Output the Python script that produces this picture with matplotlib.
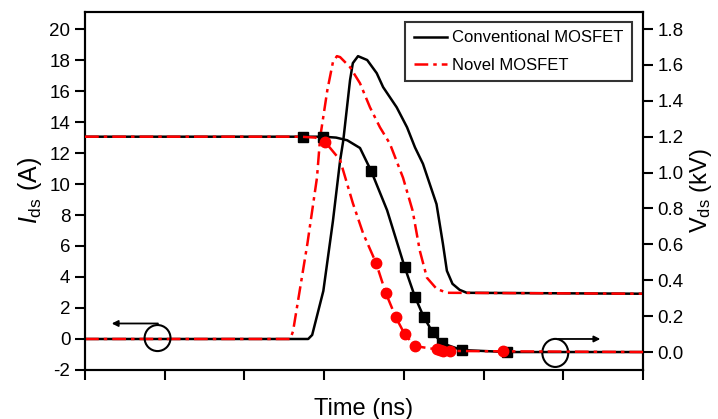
import numpy as np
import matplotlib
matplotlib.use("Agg")
import matplotlib.pyplot as plt
from matplotlib.patches import Ellipse

plt.rcParams['font.family'] = ['Liberation Sans', 'DejaVu Sans']
plt.rcParams['mathtext.fontset'] = 'custom'
plt.rcParams['mathtext.rm'] = 'Liberation Sans'
plt.rcParams['mathtext.it'] = 'Liberation Sans:italic'
plt.rcParams['axes.unicode_minus'] = False

# Ids (A), left axis
t_ids_conv = [0, 2.80, 2.85, 2.99, 3.11, 3.20, 3.24, 3.325, 3.36, 3.425, 3.54, 3.66, 3.74,
              3.91, 4.04, 4.14, 4.24, 4.325, 4.41, 4.49, 4.54, 4.61, 4.70, 4.79, 7.0]
ids_conv = [0, 0, 0.26, 3.1, 7.6, 11.5, 12.8, 16.7, 17.8, 18.25, 18.0, 17.15, 16.25,
            14.95, 13.66, 12.36, 11.3, 10.0, 8.7, 6.15, 4.4, 3.56, 3.17, 2.98, 2.92]

t_ids_novel = [0, 2.575, 2.61, 2.79, 2.91, 2.95, 3.04, 3.11, 3.16, 3.20, 3.325, 3.45, 3.575,
               3.70, 3.825, 3.99, 4.11, 4.20, 4.29, 4.41, 4.54, 7.0]
ids_novel = [0, 0, 0.5, 6.15, 10.4, 13.0, 16.05, 17.86, 18.25, 18.19, 17.54, 16.5, 14.95,
             13.66, 12.6, 10.4, 8.28, 5.7, 3.95, 3.24, 2.98, 2.92]

# Vds (kV), right axis
t_vds_conv = [0, 2.74, 2.99, 3.15, 3.29, 3.45, 3.59, 3.79, 4.01, 4.14, 4.25, 4.36, 4.475,
              4.725, 5.3, 7.0]
vds_conv = [1.2, 1.2, 1.2, 1.195, 1.18, 1.137, 1.009, 0.79, 0.474, 0.307, 0.195, 0.111, 0.05,
            0.011, 0.0, 0.0]
t_sq = [2.74, 2.99, 3.59, 4.01, 4.14, 4.25, 4.36, 4.475, 4.725, 5.3]
v_sq = [1.2, 1.2, 1.009, 0.474, 0.307, 0.195, 0.111, 0.05, 0.011, 0.0]

t_vds_novel = [0, 2.70, 2.89, 3.01, 3.20, 3.36, 3.49, 3.65, 3.775, 3.90, 4.01, 4.14, 4.41,
               4.45, 4.49, 4.585, 5.24, 7.0]
vds_novel = [1.2, 1.2, 1.195, 1.172, 1.07, 0.83, 0.66, 0.498, 0.327, 0.193, 0.10, 0.033, 0.015,
             0.011, 0.008, 0.006, 0.004, 0.0]
t_ci = [3.01, 3.65, 3.775, 3.90, 4.01, 4.14, 4.41, 4.45, 4.49, 4.585, 5.24]
v_ci = [1.172, 0.498, 0.327, 0.193, 0.10, 0.033, 0.015, 0.011, 0.008, 0.006, 0.004]

left_ticks = list(range(-2, 21, 2))
right_ticks = [0.0, 0.2, 0.4, 0.6, 0.8, 1.0, 1.2, 1.4, 1.6, 1.8]

dashdot = (0, (5.5, 2.0, 1.4, 2.0))
RED = '#ff0000'
LW = 1.8

fig = plt.figure(figsize=(7.18, 4.19), dpi=100)
ax = fig.add_axes([0.1184, 0.117, 0.7771, 0.8544])
ax2 = ax.twinx()

ax.plot(t_ids_conv, ids_conv, color='black', lw=LW, label='Conventional MOSFET', zorder=3)
ax.plot(t_ids_novel, ids_novel, color=RED, lw=LW, ls=dashdot, label='Novel MOSFET', zorder=4)

ax2.plot(t_vds_conv, vds_conv, color='black', lw=LW, zorder=3)
ax2.plot(t_sq, v_sq, ls='none', marker='s', ms=6.5, color='black', zorder=3)
ax2.plot(t_vds_novel, vds_novel, color=RED, lw=LW, ls=dashdot, zorder=4)
ax2.plot(t_ci, v_ci, ls='none', marker='o', ms=7.5, color=RED, zorder=4)

ax.set_xlim(0, 7)
ax.set_ylim(-2, 21.1)
ax2.set_ylim(-0.1, 1.895)
ax.set_xticks(range(0, 8))
ax.set_xticklabels([])
ax.set_yticks(left_ticks)
ax2.set_yticks(right_ticks)
ax2.set_yticklabels([f"{v:.1f}" for v in right_ticks])

for a in (ax, ax2):
    for s in a.spines.values():
        s.set_linewidth(1.5)
    a.tick_params(direction='out', length=7, width=1.5, labelsize=13.5)

ax.set_xlabel('Time (ns)', fontsize=17, labelpad=10)
ax.set_ylabel(r'$I_{\mathrm{ds}}$ (A)', fontsize=18, labelpad=4)
ax2.set_ylabel(r'V$_{\mathrm{ds}}$ (kV)', fontsize=17, labelpad=3)

# circles and arrows pointing to the axes
ax.add_patch(Ellipse((0.91, 0.06), 0.325, 1.68, fill=False, lw=1.5, color='black', zorder=5))
ax.annotate('', xy=(0.30, 1.0), xytext=(0.95, 1.0),
            arrowprops=dict(arrowstyle='-|>', color='black', lw=1.3, mutation_scale=9))
ax.add_patch(Ellipse((5.9, -0.9), 0.325, 1.81, fill=False, lw=1.5, color='black', zorder=5))
ax.annotate('', xy=(6.5, 0.0), xytext=(5.9, 0.0),
            arrowprops=dict(arrowstyle='-|>', color='black', lw=1.3, mutation_scale=9))

h, l = ax.get_legend_handles_labels()
leg = ax2.legend(h, l, loc='upper right', bbox_to_anchor=(0.98, 0.972), borderaxespad=0,
                 fontsize=12, frameon=True, fancybox=False, edgecolor='black',
                 handlelength=2.0, handletextpad=0.3, labelspacing=0.75, borderpad=0.5)
leg.get_frame().set_linewidth(1.5)

fig.savefig('out.png', dpi=100)
